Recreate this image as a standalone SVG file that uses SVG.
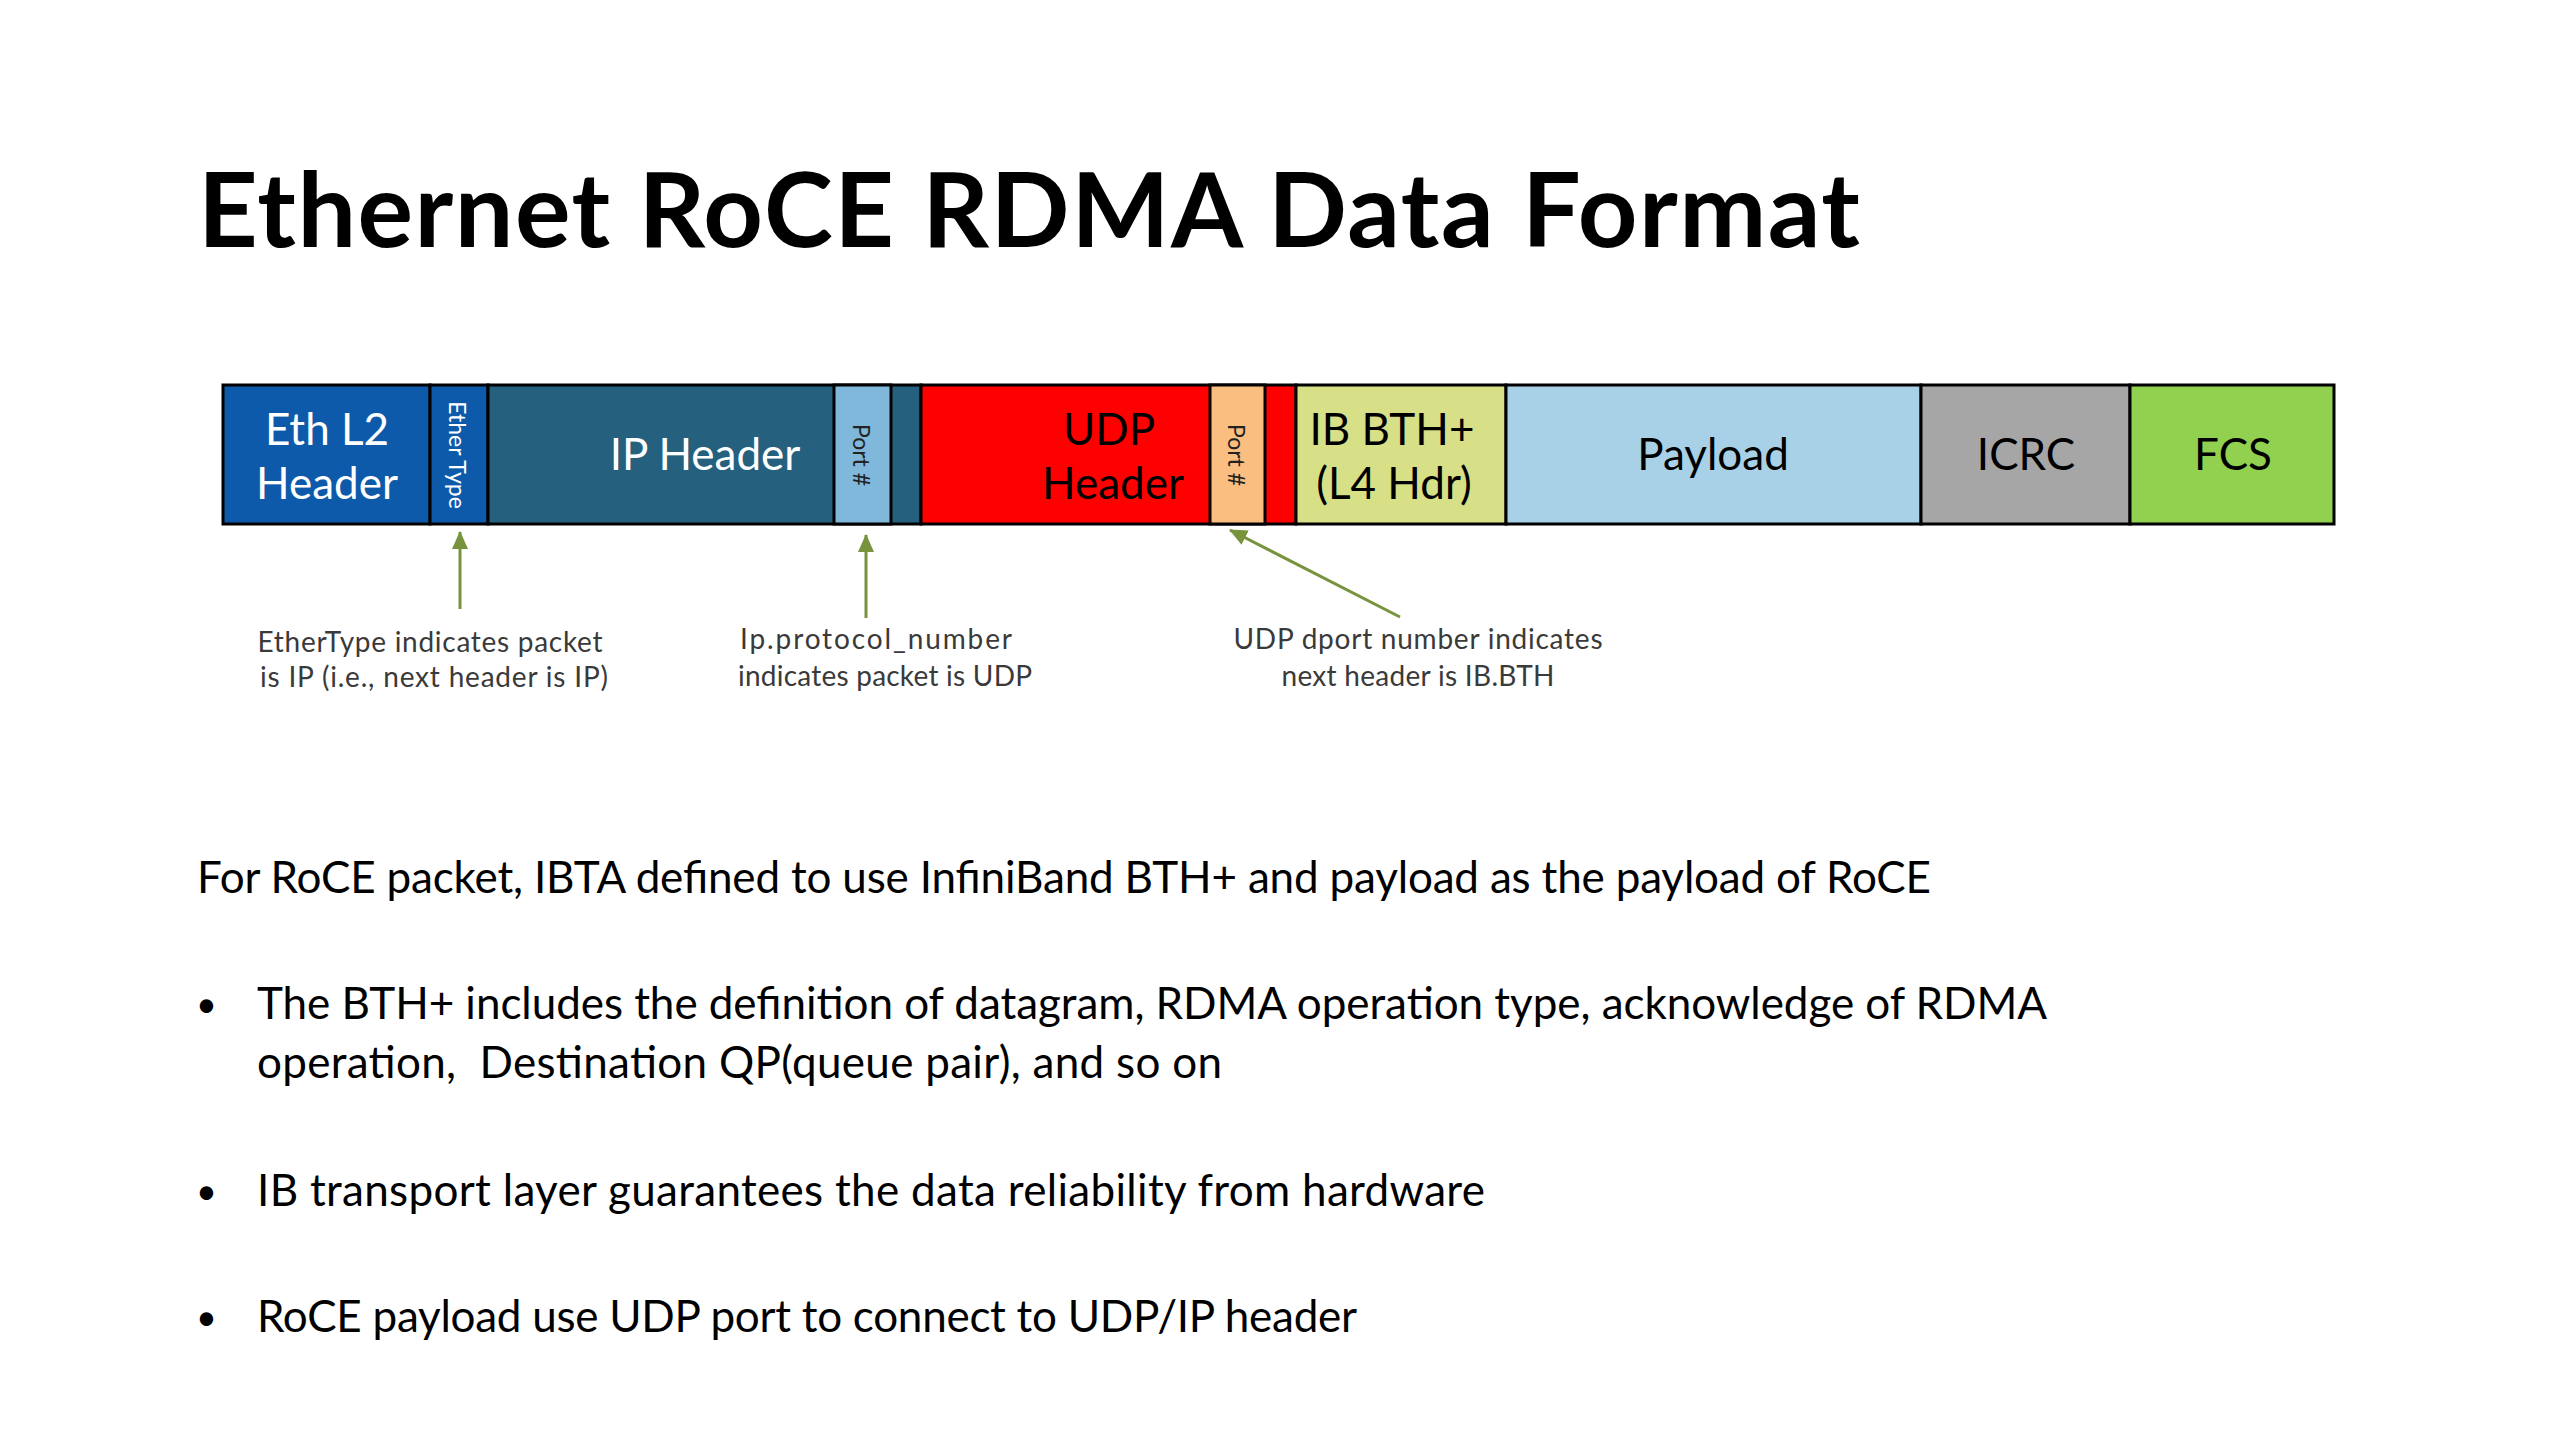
<svg xmlns="http://www.w3.org/2000/svg" width="2560" height="1440" viewBox="0 0 2560 1440">
<defs>
<style>
text{font-family:Lato,"Liberation Sans",Arial,sans-serif}
.title{font-size:104px;font-weight:bold;fill:#000}
.seg{stroke:#000;stroke-width:3}
.lbl{font-size:44px;text-anchor:middle}
.w{fill:#fff}
.k{fill:#000}
.rot{font-size:23px;text-anchor:middle;dominant-baseline:central}
.ann{font-size:28px;fill:#3a3a3a;text-anchor:middle}
.body{font-size:44px;fill:#000;white-space:pre}
.dot{font-size:36px;fill:#000}
.arrow{stroke:#77933C;stroke-width:3;fill:none;marker-end:url(#ah)}
</style>
<marker id="ah" markerUnits="userSpaceOnUse" markerWidth="18" markerHeight="16" refX="17" refY="8" orient="auto" viewBox="0 0 18 16">
<path d="M0,0 L18,8 L0,16 z" fill="#77933C"/>
</marker>
</defs>
<rect width="2560" height="1440" fill="#fff"/>
<text class="title" x="198" y="247" textLength="1662">Ethernet RoCE RDMA Data Format</text>

<g id="eth-l2-header">
<rect class="seg" x="223" y="385" width="207" height="139" fill="#0E5AAA"/>
<text class="lbl w" x="327" y="445">Eth L2</text>
<text class="lbl w" x="327" y="499">Header</text>
</g>
<g id="ether-type">
<rect class="seg" x="430" y="385" width="58" height="139" fill="#0E5AAA"/>
<text class="rot w" x="458" y="455" transform="rotate(90 458 455)">Ether Type</text>
</g>
<g id="ip-header">
<rect class="seg" x="488" y="385" width="433" height="139" fill="#25617F"/>
<text class="lbl w" x="705" y="470">IP Header</text>
</g>
<g id="ip-port">
<rect class="seg" x="834" y="385" width="57" height="139" fill="#7FB8DA"/>
<text class="rot" x="862" y="455" fill="#222" transform="rotate(90 862 455)">Port #</text>
</g>
<g id="udp-header">
<rect class="seg" x="921" y="385" width="375" height="139" fill="#FF0000"/>
<text class="lbl k" x="1109" y="445">UDP</text>
<text class="lbl k" x="1113" y="499">Header</text>
</g>
<g id="udp-port">
<rect class="seg" x="1210" y="385" width="55" height="139" fill="#FABF80"/>
<text class="rot" x="1237" y="455" fill="#222" transform="rotate(90 1237 455)">Port #</text>
</g>
<g id="ib-bth">
<rect class="seg" x="1296" y="385" width="210" height="139" fill="#D7DF87"/>
<text class="lbl k" x="1392" y="445">IB BTH+</text>
<text class="lbl k" x="1394" y="499">(L4 Hdr)</text>
</g>
<g id="payload">
<rect class="seg" x="1506" y="385" width="415" height="139" fill="#A8D0E6"/>
<text class="lbl k" x="1713" y="470">Payload</text>
</g>
<g id="icrc">
<rect class="seg" x="1921" y="385" width="209" height="139" fill="#A6A6A6"/>
<text class="lbl k" x="2026" y="470">ICRC</text>
</g>
<g id="fcs">
<rect class="seg" x="2130" y="385" width="204" height="139" fill="#92D050"/>
<text class="lbl k" x="2233" y="470">FCS</text>
</g>

<g id="connectors">
<line class="arrow" x1="460" y1="609" x2="460" y2="532"/>
<line class="arrow" x1="866" y1="618" x2="866" y2="535"/>
<line class="arrow" x1="1400" y1="617" x2="1230" y2="530"/>
</g>

<g id="note-ethertype">
<text class="ann" x="430" y="652" textLength="345">EtherType indicates packet</text>
<text class="ann" x="434" y="687" textLength="348">is IP (i.e., next header is IP)</text>
</g>
<g id="note-ipproto">
<text class="ann" x="876" y="649" textLength="272">Ip.protocol_number</text>
<text class="ann" x="885" y="686" textLength="294">indicates packet is UDP</text>
</g>
<g id="note-udpport">
<text class="ann" x="1418" y="649" textLength="369">UDP dport number indicates</text>
<text class="ann" x="1418" y="686" textLength="273">next header is IB.BTH</text>
</g>

<g id="body-text">
<text class="body" x="197" y="893" textLength="1734">For RoCE packet, IBTA defined to use InfiniBand BTH+ and payload as the payload of RoCE</text>
<text class="dot" x="196" y="1017">•</text>
<text class="body" x="257" y="1019" textLength="1790">The BTH+ includes the definition of datagram, RDMA operation type, acknowledge of RDMA</text>
<text class="body" x="257" y="1078" textLength="965">operation,  Destination QP(queue pair), and so on</text>
<text class="dot" x="196" y="1204">•</text>
<text class="body" x="257" y="1206" textLength="1228">IB transport layer guarantees the data reliability from hardware</text>
<text class="dot" x="196" y="1330">•</text>
<text class="body" x="257" y="1332" textLength="1100">RoCE payload use UDP port to connect to UDP/IP header</text>
</g>
</svg>
